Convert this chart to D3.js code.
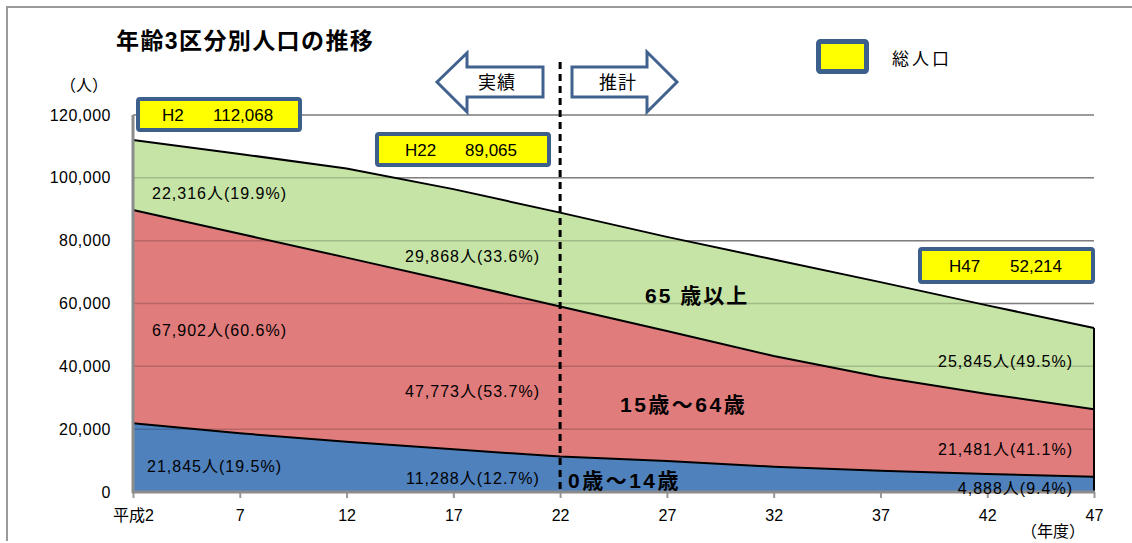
<!DOCTYPE html>
<html>
<head>
<meta charset="utf-8">
<script src="https://cdn.jsdelivr.net/npm/d3@7"></script>
<style>
  body { margin: 0; background: #fff; }
  svg { font-family: "Liberation Sans", "Noto Sans CJK JP", sans-serif; }
</style>
</head>
<body>
<svg id="chart" width="1132" height="543"></svg>
<script>
'use strict'

// 年度 (平成)
const years = [2, 7, 12, 17, 22, 27, 32, 37, 42, 47]
const tickLabels = ['平成2', '7', '12', '17', '22', '27', '32', '37', '42', '47']
const yTicks = [0, 20000, 40000, 60000, 80000, 100000, 120000]

// 年齢3区分別人口
const age0_14 = [21845, 18700, 16000, 13600, 11288, 9900, 8050, 6800, 5750, 4888]
const age15_64 = [67902, 63500, 58600, 53300, 47773, 41350, 35250, 29800, 25450, 21481]
const age65 = [22316, 25400, 28400, 29500, 29868, 29950, 30700, 30200, 28200, 25845]

// 表示ラベル (H2, H22, H47)
const labelYears = [2, 22, 47]
const totals = [112068, 89065, 52214]
const pct0_14 = [19.5, 12.7, 9.4]
const pct15_64 = [60.6, 53.7, 41.1]
const pct65 = [19.9, 33.6, 49.5]

const keys = ['a0', 'a15', 'a65']
const colors = {a0: '#4f81bd', a15: '#e07c7c', a65: '#c6e4a5'}

const rows = years.map((y, i) => ({year: y, a0: age0_14[i], a15: age15_64[i], a65: age65[i]}))
const series = d3.stack().keys(keys)(rows)

const svg = d3.select('#chart')

const x = d3.scaleLinear().domain([2, 47]).range([133, 1094])
const y = d3.scaleLinear().domain([0, 120000]).range([492, 115])

// frame
svg.append('path')
  .attr('d', 'M7,541 V7 H1132')
  .style('fill', 'none').style('stroke', '#9a9a9a').style('stroke-width', 2)

// title
svg.append('text').attr('x', 116).attr('y', 41)
  .attr('dominant-baseline', 'central')
  .style('font-size', '23px').style('font-weight', 'bold').style('letter-spacing', '1.4px')
  .text('年齢3区分別人口の推移')

svg.append('text').attr('x', 60).attr('y', 85)
  .attr('dominant-baseline', 'central')
  .style('font-size', '16px')
  .text('（人）')

// gridlines under areas
svg.append('g').selectAll('line').data(yTicks.slice(1)).join('line')
  .attr('x1', x(2)).attr('x2', x(47))
  .attr('y1', d => y(d)).attr('y2', d => y(d))
  .style('stroke', '#9a9a9a').style('stroke-width', 1.5)

const area = d3.area()
  .x(d => x(d.data.year))
  .y0(d => y(d[0]))
  .y1(d => y(d[1]))

svg.append('g').selectAll('path').data(series).join('path')
  .attr('d', area)
  .style('fill', d => colors[d.key])

// gridlines showing through the areas
svg.append('g').selectAll('line').data(yTicks.slice(1)).join('line')
  .attr('x1', x(2)).attr('x2', x(47))
  .attr('y1', d => y(d)).attr('y2', d => y(d))
  .style('stroke', '#000').style('stroke-opacity', 0.18).style('stroke-width', 1.5)

// top edges of each area
const topLine = d3.line()
  .x(d => x(d.data.year))
  .y(d => y(d[1]))

svg.append('g').selectAll('path').data(series).join('path')
  .attr('d', topLine)
  .style('fill', 'none').style('stroke', '#000').style('stroke-width', 2)

const last = series[2][series[2].length - 1]
svg.append('line')
  .attr('x1', x(47)).attr('x2', x(47))
  .attr('y1', y(last[1])).attr('y2', y(0))
  .style('stroke', '#000').style('stroke-width', 2)

// axes
const axisX = d3.axisBottom(x).tickValues(years).tickFormat((d, i) => tickLabels[i])
  .tickSize(6).tickPadding(12)
const gx = svg.append('g').attr('transform', `translate(0, ${y(0)})`).call(axisX)
gx.select('.domain').remove()
gx.selectAll('.tick line').style('stroke', '#999').style('stroke-width', 2)
gx.selectAll('.tick text').style('font-size', '16px').style('fill', '#000')
  .style('font-family', '"Liberation Sans", "Noto Sans CJK JP", sans-serif')

svg.append('line')
  .attr('x1', x(2) - 1).attr('x2', x(47) + 1)
  .attr('y1', y(0)).attr('y2', y(0))
  .style('stroke', '#8c8c8c').style('stroke-width', 3)

const axisY = d3.axisLeft(y).tickValues(yTicks).tickFormat(d3.format(','))
  .tickSize(0).tickPadding(22)
const gy = svg.append('g').attr('transform', `translate(${x(2)}, 0)`).call(axisY)
gy.select('.domain').remove()
gy.selectAll('.tick text').style('font-size', '16px').style('fill', '#000')
  .style('letter-spacing', '0.5px')
  .style('font-family', '"Liberation Sans", "Noto Sans CJK JP", sans-serif')

svg.append('line')
  .attr('x1', x(2)).attr('x2', x(2))
  .attr('y1', y(120000)).attr('y2', y(0) + 1)
  .style('stroke', '#8c8c8c').style('stroke-width', 3)

svg.append('text').attr('x', 1085).attr('y', 531)
  .attr('text-anchor', 'end').attr('dominant-baseline', 'central')
  .style('font-size', '16px')
  .text('（年度）')

// 実績 / 推計 divider
svg.append('line')
  .attr('x1', x(22)).attr('x2', x(22))
  .attr('y1', 62).attr('y2', y(0))
  .style('stroke', '#000').style('stroke-width', 3).style('stroke-dasharray', '7,5')

const arrowStroke = '#41628f'
svg.append('path')
  .attr('d', 'M437,82 L467,53 L467,67 L543,67 L543,97 L467,97 L467,112 Z')
  .style('fill', '#fff').style('stroke', arrowStroke).style('stroke-width', 3).style('stroke-linejoin', 'miter')
svg.append('text').attr('x', 497).attr('y', 83)
  .attr('text-anchor', 'middle').attr('dominant-baseline', 'central')
  .style('font-size', '18px').style('letter-spacing', '1px')
  .text('実績')

svg.append('path')
  .attr('d', 'M572,67 L647,67 L647,52 L677,82 L647,112 L647,97 L572,97 Z')
  .style('fill', '#fff').style('stroke', arrowStroke).style('stroke-width', 3).style('stroke-linejoin', 'miter')
svg.append('text').attr('x', 618).attr('y', 83)
  .attr('text-anchor', 'middle').attr('dominant-baseline', 'central')
  .style('font-size', '18px').style('letter-spacing', '1px')
  .text('推計')

// legend
const boxStroke = '#3c5f8b'
svg.append('rect').attr('x', 818.5).attr('y', 41.5).attr('width', 48).attr('height', 30).attr('rx', 2)
  .style('fill', '#ffff00').style('stroke', boxStroke).style('stroke-width', 5)
svg.append('text').attr('x', 892).attr('y', 59)
  .attr('dominant-baseline', 'central')
  .style('font-size', '17px').style('letter-spacing', '3px')
  .text('総人口')

// callout boxes for total population
const boxes = [
  {x: 138, y: 99, w: 162, h: 31, tx: 162, vx: 213},
  {x: 377, y: 134, w: 172, h: 31, tx: 405, vx: 465},
  {x: 920, y: 249, w: 173, h: 33, tx: 949, vx: 1010}
]
boxes.forEach((b, i) => {
  svg.append('rect').attr('x', b.x).attr('y', b.y).attr('width', b.w).attr('height', b.h).attr('rx', 2)
    .style('fill', '#ffff00').style('stroke', boxStroke).style('stroke-width', 4)
  svg.append('text').attr('x', b.tx).attr('y', b.y + b.h / 2 + 1)
    .attr('dominant-baseline', 'central').style('font-size', '17px')
    .text('H' + labelYears[i])
  svg.append('text').attr('x', b.vx).attr('y', b.y + b.h / 2 + 1)
    .attr('dominant-baseline', 'central').style('font-size', '17px')
    .text(d3.format(',')(totals[i]))
})

// value labels in the areas
const fmt = d3.format(',')
const valueAt = (arr, yr) => arr[years.indexOf(yr)]
const labelPos = [
  // [values, percents, label index, x, y, anchor]
  [age65, pct65, 0, 152, 193, 'start'],
  [age15_64, pct15_64, 0, 152, 330, 'start'],
  [age0_14, pct0_14, 0, 147, 466, 'start'],
  [age65, pct65, 1, 405, 256, 'start'],
  [age15_64, pct15_64, 1, 405, 391, 'start'],
  [age0_14, pct0_14, 1, 406, 478, 'start'],
  [age65, pct65, 2, 1073, 361, 'end'],
  [age15_64, pct15_64, 2, 1073, 449, 'end'],
  [age0_14, pct0_14, 2, 1073, 488, 'end']
]
labelPos.forEach(p => {
  const v = valueAt(p[0], labelYears[p[2]])
  svg.append('text').attr('x', p[3]).attr('y', p[4])
    .attr('text-anchor', p[5]).attr('dominant-baseline', 'central')
    .style('font-size', '16px').style('letter-spacing', '1px')
    .text(`${fmt(v)}人(${p[1][p[2]].toFixed(1)}%)`)
})

// category names
const catLabels = [
  ['65 歳以上', 645, 295, '2px'],
  ['15歳～64歳', 620, 404, '2.5px'],
  ['0歳～14歳', 568, 480, '2.5px']
]
catLabels.forEach(c => {
  svg.append('text').attr('x', c[1]).attr('y', c[2])
    .attr('dominant-baseline', 'central')
    .style('font-size', '21px').style('font-weight', 'bold').style('letter-spacing', c[3])
    .text(c[0])
})
</script>
</body>
</html>
